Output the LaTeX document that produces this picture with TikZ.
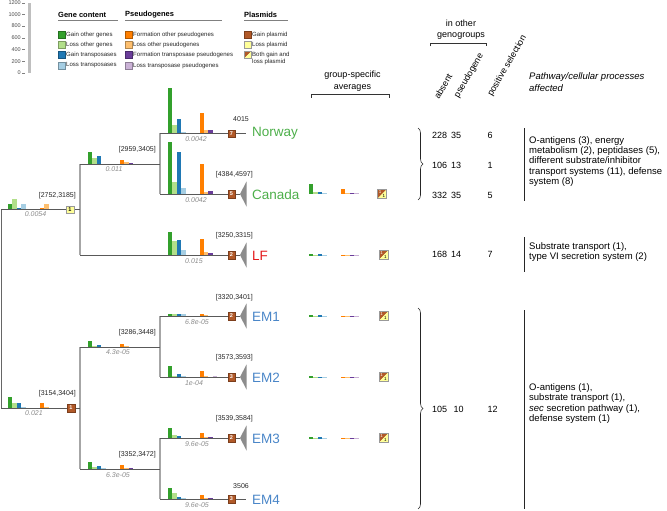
\documentclass[tikz,border=0pt]{standalone}
\usepackage{fontspec}
\setmainfont{Liberation Sans}
\usetikzlibrary{decorations.pathreplacing}
\definecolor{cGo}{HTML}{33A02C}
\definecolor{cLo}{HTML}{B2DF8A}
\definecolor{cGt}{HTML}{1F78B4}
\definecolor{cLt}{HTML}{A6CEE3}
\definecolor{cFo}{HTML}{FF7F00}
\definecolor{cLpo}{HTML}{FDBF6F}
\definecolor{cFt}{HTML}{6A3D9A}
\definecolor{cLpt}{HTML}{CAB2D6}
\definecolor{cGp}{HTML}{B15928}
\definecolor{cLp}{HTML}{FFFF99}
\definecolor{cGreen}{HTML}{4DAF4A}
\definecolor{cRed}{HTML}{E41A1C}
\definecolor{cBlue}{HTML}{4A86C8}
\newcommand{\gbars}[6]{%
 \fill[cGo] (#1,#2) rectangle ++(4.4,-#3);
 \fill[cLo] (#1+4.4,#2) rectangle ++(4.4,-#4);
 \fill[cGt] (#1+8.8,#2) rectangle ++(4.4,-#5);
 \fill[cLt] (#1+13.2,#2) rectangle ++(4.4,-#6);}
\newcommand{\pbars}[6]{%
 \fill[cFo] (#1,#2) rectangle ++(4.4,-#3);
 \fill[cLpo] (#1+4.4,#2) rectangle ++(4.4,-#4);
 \fill[cFt] (#1+8.8,#2) rectangle ++(4.4,-#5);
 \fill[cLpt] (#1+13.2,#2) rectangle ++(4.4,-#6);}
\newcommand{\fsz}[1]{\fontsize{#1}{#1}\selectfont}
\begin{document}
\begin{tikzpicture}[x=1pt,y=-1pt,
  hline/.style={draw=black!65, line width=0.7pt},
  vline/.style={draw=black!35, line width=1.3pt},
  rootline/.style={draw=black!60, line width=0.8pt},
  sqb/.style={draw=cGp!70!black, line width=0.3pt, fill=cGp, minimum size=7.5pt, inner sep=0pt, text=white, font=\fsz{5.5}\bfseries},
  sqy/.style={draw=black!40, line width=0.4pt, fill=cLp, minimum size=7.5pt, inner sep=0pt, text=black, font=\fsz{5.5}\bfseries},
  both/.style={minimum size=9pt, inner sep=0pt, draw=black!40, line width=0.3pt,
    path picture={
      \fill[cGp] (path picture bounding box.north west) -- (path picture bounding box.north east) -- (path picture bounding box.south west) -- cycle;
      \fill[cLp] (path picture bounding box.north east) -- (path picture bounding box.south east) -- (path picture bounding box.south west) -- cycle;
      \node[font=\fsz{4.5}, text=white, inner sep=0pt] at ([xshift=-1.8pt,yshift=1.6pt]path picture bounding box.center) {1};
      \node[font=\fsz{4.5}, text=black, inner sep=0pt] at ([xshift=1.8pt,yshift=-1.8pt]path picture bounding box.center) {1};}},
  tri/.style={fill=black!45},
  blen/.style={font=\fsz{7}\itshape, text=black!45, inner sep=0pt},
  rng/.style={font=\fsz{7}, text=black!85, inner sep=0pt, anchor=east},
  taxon/.style={font=\fsz{13.5}, inner sep=0pt, anchor=west},
  num/.style={font=\fsz{9}, inner sep=0pt, anchor=west},
  path/.style={font=\fontsize{9.5}{10.3}\selectfont, inner sep=0pt, anchor=west, align=left},
  leg/.style={font=\fsz{6.05}, inner sep=0pt, anchor=west, text=black!85},
  legsq/.style={minimum size=7pt, inner sep=0pt, line width=0.3pt},
  head/.style={font=\fsz{7.5}\bfseries, inner sep=0pt, anchor=west},
  axl/.style={font=\fsz{5.5}, inner sep=0pt, anchor=east, text=black!70},
  hdr/.style={font=\fontsize{9}{11.5}\selectfont, inner sep=0pt, align=center},
  rot/.style={font=\fsz{9}, inner sep=0pt, anchor=base west, rotate=60}
]
\useasboundingbox (0,0) rectangle (667,511);

% ---------- axis ----------
\fill[black!25] (28,3) rectangle (31,73);
\foreach \v/\yy in {1200/3,1000/14.5,800/26,600/37.8,400/49.5,200/61.2,0/72.8}{
  \node[axl] (ax\v) at (21,\yy) {\v};
  \draw[black!50, line width=0.3pt] (22,\yy) -- (25,\yy);
}

% ---------- legend ----------
\node[head] (hGene) at (58,15) {Gene content};
\draw[black!50, line width=0.5pt] (58,20.5) -- (118,20.5);
\node[head] (hPseudo) at (125,15) {Pseudogenes};
\draw[black!50, line width=0.5pt] (125,20.5) -- (222,20.5);
\node[head] (hPlas) at (244,15) {Plasmids};
\draw[black!50, line width=0.5pt] (244,20.5) -- (288,20.5);

\node[legsq, fill=cGo, draw=cGo!70!black] (lg1) at (61.5,35) {};
\node[leg] at (66,35) {Gain other genes};
\node[legsq, fill=cLo, draw=cLo!70!black] (lg2) at (61.5,45) {};
\node[leg] at (66,45) {Loss other genes};
\node[legsq, fill=cGt, draw=cGt!70!black] (lg3) at (61.5,55) {};
\node[leg] at (66,55) {Gain transposases};
\node[legsq, fill=cLt, draw=cLt!70!black] (lg4) at (61.5,65.5) {};
\node[leg] at (66,65.5) {Loss transposases};

\node[legsq, fill=cFo, draw=cFo!70!black] (lp1) at (128.5,35) {};
\node[leg] at (133,35) {Formation other pseudogenes};
\node[legsq, fill=cLpo, draw=cLpo!70!black] (lp2) at (128.5,45) {};
\node[leg] at (133,45) {Loss other pseudogenes};
\node[legsq, fill=cFt, draw=cFt!70!black] (lp3) at (128.5,55) {};
\node[leg] at (133,55) {Formation transposase pseudogenes};
\node[legsq, fill=cLpt, draw=cLpt!70!black] (lp4) at (128.5,65.5) {};
\node[leg] at (133,65.5) {Loss transposase pseudogenes};

\node[legsq, fill=cGp, draw=cGp!70!black] (lq1) at (247.5,35) {};
\node[leg] at (252,35) {Gain plasmid};
\node[legsq, fill=cLp, draw=black!40] (lq2) at (247.5,45) {};
\node[leg] at (252,45) {Loss plasmid};
\node[legsq, draw=black!40, path picture={
      \fill[cGp] (path picture bounding box.north west) -- (path picture bounding box.north east) -- (path picture bounding box.south west) -- cycle;
      \fill[cLp] (path picture bounding box.north east) -- (path picture bounding box.south east) -- (path picture bounding box.south west) -- cycle;}] (lq3) at (247.5,55) {};
\node[leg, align=left, font=\fontsize{6.05}{7.2}\selectfont] at (252,58.5) {Both gain and\\loss plasmid};

% ---------- bars ----------
\gbars{8}{209}{5}{10}{1}{5}      \pbars{40}{209}{1}{5}{0}{0}
\gbars{8}{408}{11}{5}{5}{1}      \pbars{40}{408}{5}{1}{0.5}{0}
\gbars{88}{164}{12}{6}{8}{0.5}   \pbars{120}{164}{4}{2}{1.5}{0}
\gbars{168}{133}{45}{8}{14}{1}   \pbars{199.5}{133}{20}{3}{3}{0}
\gbars{168}{194}{52}{12}{42}{6}  \pbars{199.5}{194}{30}{2}{3}{0.5}
\gbars{168}{255}{23}{14}{15}{5}  \pbars{199.5}{255}{16}{3}{2}{0}
\gbars{88}{347}{6}{1}{2}{0.5}    \pbars{120}{347}{3}{1}{0.5}{0}
\gbars{88}{469}{7}{2}{3}{1}      \pbars{120}{469}{4}{1}{1}{0}
\gbars{168}{316}{2}{2}{2}{2}     \pbars{199.5}{316}{2}{1}{0}{0}
\gbars{168}{377}{11}{1.5}{3}{1}  \pbars{199.5}{377}{6}{1}{0}{1}
\gbars{168}{438}{10}{3}{2}{0.5}  \pbars{199.5}{438}{5}{1}{1}{0}
\gbars{168}{499}{11}{6}{2}{1}    \pbars{199.5}{499}{4}{1}{1}{0}

% group-specific averages
\gbars{309}{193.5}{10}{1.5}{2}{1}   \pbars{341}{193.5}{5}{1}{0.7}{0.7}
\gbars{309}{255.5}{1.5}{0.5}{1.5}{0.7} \pbars{341}{255.5}{1}{0.5}{0.5}{1}
\gbars{309}{316.5}{1.5}{0.5}{1.5}{1} \pbars{341}{316.5}{1}{0.5}{0.5}{1}
\gbars{309}{377.5}{1.5}{0.3}{0.4}{1} \pbars{341}{377.5}{0.3}{1}{0.3}{1}
\gbars{309}{438.5}{1.5}{0.5}{1.5}{0.7} \pbars{341}{438.5}{1}{0.5}{1}{1}

% ---------- tree ----------
\coordinate (R)   at (1,209);   \coordinate (Rb)  at (1,408);
\coordinate (N1)  at (80,209);  \coordinate (N1a) at (80,164);  \coordinate (N1b) at (80,255);
\coordinate (N2)  at (160,164); \coordinate (N2a) at (160,133); \coordinate (N2b) at (160,194);
\coordinate (M1)  at (80,408);  \coordinate (M1a) at (80,347);  \coordinate (M1b) at (80,469);
\coordinate (M2)  at (160,347); \coordinate (M2a) at (160,316); \coordinate (M2b) at (160,377);
\coordinate (M3)  at (160,469); \coordinate (M3a) at (160,438); \coordinate (M3b) at (160,499);
\coordinate (tNor) at (246,133); \coordinate (tCan) at (240,194); \coordinate (tLF) at (240,255);
\coordinate (tEM1) at (240,316); \coordinate (tEM2) at (240,377); \coordinate (tEM3) at (240,438);
\coordinate (tEM4) at (246,499);

\draw[rootline] (R) -- (Rb);
\draw[vline] (N1a) -- (N1b);
\draw[vline] (N2a) -- (N2b);
\draw[vline] (M1a) -- (M1b);
\draw[vline] (M2a) -- (M2b);
\draw[vline] (M3a) -- (M3b);
\draw[hline] (R) -- (N1);
\draw[hline] (Rb) -- (M1);
\draw[hline] (N1a) -- (N2);
\draw[hline] (N2a) -- (tNor);
\draw[hline] (N2b) -- (tCan);
\draw[hline] (N1b) -- (tLF);
\draw[hline] (M1a) -- (M2);
\draw[hline] (M1b) -- (M3);
\draw[hline] (M2a) -- (tEM1);
\draw[hline] (M2b) -- (tEM2);
\draw[hline] (M3a) -- (tEM3);
\draw[hline] (M3b) -- (tEM4);

\foreach \t in {tCan,tLF,tEM1,tEM2,tEM3}{
  \fill[tri] (\t) -- ++(6.5,-12.5) -- ++(0,25) -- cycle;
}

\node[sqy] (s0) at (70,209.5) {1};
\node[sqb] (s1) at (71,408) {1};
\node[sqb] (sNor) at (231.5,133.5) {7};
\node[sqb] (sCan) at (231.5,194) {5};
\node[sqb] (sLF)  at (231.5,255) {2};
\node[sqb] (sEM1) at (231.5,316) {2};
\node[sqb] (sEM2) at (231.5,377) {3};
\node[sqb] (sEM3) at (231.5,438) {2};
\node[sqb] (sEM4) at (231.5,499) {3};

% taxon labels
\node[taxon, text=cGreen] (Nor) at (252,133.5) {Norway};
\node[taxon, text=cGreen] (Can) at (252,194.5) {Canada};
\node[taxon, text=cRed]   (LF)  at (252,255.5) {LF};
\node[taxon, text=cBlue]  (EM1) at (252,316.5) {EM1};
\node[taxon, text=cBlue]  (EM2) at (252,377.5) {EM2};
\node[taxon, text=cBlue]  (EM3) at (252,438.5) {EM3};
\node[taxon, text=cBlue]  (EM4) at (252,499.5) {EM4};

% range labels
\node[rng] (r0) at (76,196) {[2752,3185]};
\node[rng] (r1) at (156,149.5) {[2959,3405]};
\node[rng] (r2) at (253,175) {[4384,4597]};
\node[rng] (r3) at (249,119) {4015};
\node[rng] (r4) at (253,236) {[3250,3315]};
\node[rng] (r5) at (76,394) {[3154,3404]};
\node[rng] (r6) at (156,333) {[3286,3448]};
\node[rng] (r7) at (253,298) {[3320,3401]};
\node[rng] (r8) at (253,358) {[3573,3593]};
\node[rng] (r9) at (156,455) {[3352,3472]};
\node[rng] (r10) at (253,419) {[3539,3584]};
\node[rng] (r11) at (249,486) {3506};

% branch lengths
\node[blen] (b0) at (35.5,214.5) {0.0054};
\node[blen] (b1) at (114,169.5) {0.011};
\node[blen] (b2) at (196,139.5) {0.0042};
\node[blen] (b3) at (196,200) {0.0042};
\node[blen] (b4) at (194,261) {0.015};
\node[blen] (b5) at (34,413.5) {0.021};
\node[blen] (b6) at (118,352.5) {4.3e-05};
\node[blen] (b7) at (197,322) {6.8e-05};
\node[blen] (b8) at (194,383) {1e-04};
\node[blen] (b9) at (118,475) {6.3e-05};
\node[blen] (b10) at (197,444) {9.6e-05};
\node[blen] (b11) at (197,505) {9.6e-05};

% plasmid symbols
\node[both] (pCan) at (382,194) {};
\node[both] (pLF)  at (383.5,255) {};
\node[both] (pEM1) at (383.5,316) {};
\node[both] (pEM2) at (383.5,377) {};
\node[both] (pEM3) at (383.5,438) {};

% ---------- column headers ----------
\node[hdr] (gsa) at (352.5,81) {group-specific\\averages};
\draw[black!80, line width=0.6pt] (311,98) -- (311,94) -- (389,94) -- (389,98);
\node[hdr] (iog) at (461,29.5) {in other\\genogroups};
\draw[black!80, line width=0.6pt] (430,46.5) -- (430,43) -- (486,43) -- (486,46.5);
\node[rot] (cabs) at (439,100) {absent};
\node[rot] (cpse) at (458.5,98.5) {pseudogene};
\node[rot] (cpos) at (492,97) {positive selection};
\node[path, font=\fontsize{9.5}{12}\selectfont\itshape] (cpath) at (529,82) {Pathway/cellular processes\\affected};

% ---------- numbers ----------
\node[num] (a1) at (432,135) {228}; \node[num] (p1) at (451,135) {35}; \node[num] (q1) at (487.5,135) {6};
\node[num] (a2) at (432,165) {106}; \node[num] (p2) at (451,165) {13}; \node[num] (q2) at (487.5,165) {1};
\node[num] (a3) at (432,195) {332}; \node[num] (p3) at (451,195) {35}; \node[num] (q3) at (487.5,195) {5};
\node[num] (a4) at (432,254.5) {168}; \node[num] (p4) at (451,254.5) {14}; \node[num] (q4) at (487.5,254.5) {7};
\node[num] (a5) at (432,409) {105}; \node[num] (p5) at (453.5,409) {10}; \node[num] (q5) at (487.5,409) {12};

% braces
\draw[black!85, line width=0.6pt, decorate, decoration={brace, amplitude=5pt}] (418,128) -- (418,200);
\draw[black!85, line width=0.6pt, decorate, decoration={brace, amplitude=5pt}] (418,308) -- (418,509);

% pathway lines and texts
\draw[black!85, line width=0.7pt] (524,128) -- (524,201);
\draw[black!85, line width=0.7pt] (524,237) -- (524,272);
\draw[black!85, line width=0.7pt] (524,310) -- (524,509);
\node[path] (t1) at (529,161.5) {O-antigens (3), energy\\metabolism (2), peptidases (5),\\different substrate/inhibitor\\transport systems (11), defense\\system (8)};
\node[path] (t2) at (529,252) {Substrate transport (1),\\type VI secretion system (2)};
\node[path] (t3) at (529,403.5) {O-antigens (1),\\substrate transport (1),\\\textit{sec} secretion pathway (1),\\defense system (1)};
\end{tikzpicture}
\end{document}
